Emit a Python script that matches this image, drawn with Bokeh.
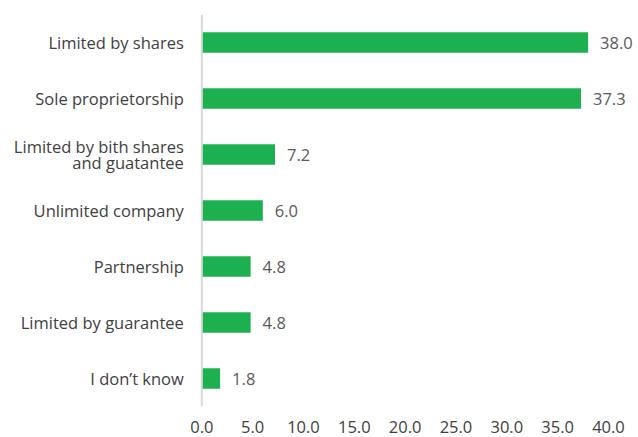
from bokeh.plotting import figure
from bokeh.models import FactorRange, ColumnDataSource, NumeralTickFormatter, FixedTicker, Range1d, Span
from bokeh.core.properties import value
from bokeh.embed import file_html
from bokeh.resources import INLINE

categories = ["Limited by shares", "Sole proprietorship", "Limited by bith shares\nand guatantee",
              "Unlimited company", "Partnership", "Limited by guarantee", "I don\u2019t know"]
values = [38.0, 37.3, 7.2, 6.0, 4.8, 4.8, 1.8]
x_ticks = [0, 5, 10, 15, 20, 25, 30, 35, 40]

FONT = "Open Sans"
FS = "16.5px"
src = ColumnDataSource(dict(cat=categories, val=values, zero=[0] * len(values),
                            lab=["%.1f" % v for v in values]))

PX_PER_UNIT = 406 / 40.0
LEFT_PX = 201
W = 638
p = figure(frame_width=W, frame_height=392, output_backend="svg", toolbar_location=None,
           y_range=FactorRange(*reversed(categories), range_padding=0),
           x_range=Range1d(-LEFT_PX / PX_PER_UNIT, (W - 1 - LEFT_PX) / PX_PER_UNIT),
           min_border_left=0, min_border_right=0, min_border_top=14, min_border_bottom=0)
p.outline_line_color = None
p.background_fill_color = "white"
p.border_fill_color = "white"

p.hbar(y="cat", right="val", left=0, height=0.37, source=src, color="#1DB051", line_color=None)
p.text(x="val", y="cat", text="lab", source=src, x_offset=12, text_baseline="middle",
       text_align="left", text_color="#595959", text_font=value(FONT), text_font_size=FS)
# category labels (left of the value axis)
p.text(x="zero", y="cat", text="cat", source=src, x_offset=-18, text_baseline="middle",
       text_align="right", text_color="#404040", text_font=value(FONT), text_font_size=FS,
       text_line_height=0.72)

p.add_layout(Span(location=0, dimension="height", line_color="#D9D9D9", line_width=2))

p.xgrid.visible = False
p.ygrid.visible = False
p.yaxis.visible = False

p.xaxis.ticker = FixedTicker(ticks=x_ticks)
p.xaxis.formatter = NumeralTickFormatter(format="0.0")
p.xaxis.axis_line_color = None
p.xaxis.major_tick_line_color = None
p.xaxis.minor_tick_line_color = None
p.xaxis.major_label_text_font = FONT
p.xaxis.major_label_text_font_size = FS
p.xaxis.major_label_text_color = "#404040"
p.xaxis.major_label_standoff = 8

open("out.html", "w").write(file_html(p, INLINE))
